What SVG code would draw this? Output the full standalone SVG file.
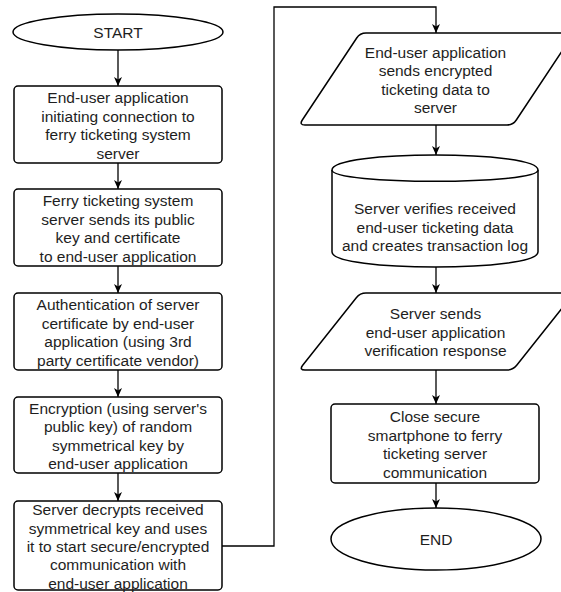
<svg xmlns="http://www.w3.org/2000/svg" width="561" height="592" viewBox="0 0 561 592">
  <style>
    .shape { fill: #ffffff; stroke: #000000; stroke-width: 1.5; }
    .conn { fill: none; stroke: #000000; stroke-width: 1.3; }
    text { font-family: "Liberation Sans", Arial, Helvetica, sans-serif; font-size: 15.5px; fill: #1e1e1e; text-anchor: middle; }
  </style>
  <defs>
    <marker id="arrow" markerUnits="userSpaceOnUse" markerWidth="10" markerHeight="10" refX="9" refY="4.5" orient="auto">
      <path d="M0,0.5 L9,4.5 L0,8.5 L2.5,4.5 Z" fill="#000000"/>
    </marker>
  </defs>
  <rect width="561" height="592" fill="#ffffff"/>

  <g id="connectors">
    <line class="conn" x1="118" y1="50" x2="118" y2="86" marker-end="url(#arrow)"/>
    <line class="conn" x1="118" y1="163" x2="118" y2="189" marker-end="url(#arrow)"/>
    <line class="conn" x1="118" y1="266" x2="118" y2="293" marker-end="url(#arrow)"/>
    <line class="conn" x1="118" y1="370" x2="118" y2="397" marker-end="url(#arrow)"/>
    <line class="conn" x1="118" y1="473" x2="118" y2="501" marker-end="url(#arrow)"/>
    <path class="conn" d="M222,546 L274,546 L274,7 L436,7 L436,33" marker-end="url(#arrow)"/>
    <line class="conn" x1="436" y1="125" x2="436" y2="155" marker-end="url(#arrow)"/>
    <line class="conn" x1="436" y1="267" x2="436" y2="293" marker-end="url(#arrow)"/>
    <line class="conn" x1="436" y1="370" x2="436" y2="404" marker-end="url(#arrow)"/>
    <line class="conn" x1="436" y1="483" x2="436" y2="508" marker-end="url(#arrow)"/>
  </g>

  <g id="start">
    <ellipse class="shape" cx="118" cy="32" rx="105" ry="18"/>
    <text x="118" y="38">START</text>
  </g>

  <g id="step1">
    <rect class="shape" x="14" y="86" width="208" height="77" rx="4"/>
    <text x="118" y="103.4">End-user application</text>
    <text x="118" y="121.8">initiating connection to</text>
    <text x="118" y="140.2">ferry ticketing system</text>
    <text x="118" y="158.6">server</text>
  </g>

  <g id="step2">
    <rect class="shape" x="14" y="189" width="208" height="77" rx="4"/>
    <text x="118" y="206.4">Ferry ticketing system</text>
    <text x="118" y="224.8">server sends its public</text>
    <text x="118" y="243.2">key and certificate</text>
    <text x="118" y="261.6">to end-user application</text>
  </g>

  <g id="step3">
    <rect class="shape" x="14" y="293" width="208" height="77" rx="4"/>
    <text x="118" y="310.4">Authentication of server</text>
    <text x="118" y="328.8">certificate by end-user</text>
    <text x="118" y="347.2">application (using 3rd</text>
    <text x="118" y="365.6">party certificate vendor)</text>
  </g>

  <g id="step4">
    <rect class="shape" x="14" y="397" width="208" height="76" rx="4"/>
    <text x="118" y="413.9">Encryption (using server's</text>
    <text x="118" y="432.3">public key) of random</text>
    <text x="118" y="450.7">symmetrical key by</text>
    <text x="118" y="469.1">end-user application</text>
  </g>

  <g id="step5">
    <rect class="shape" x="14" y="501" width="208" height="89" rx="4"/>
    <text x="118" y="515.2">Server decrypts received</text>
    <text x="118" y="533.6">symmetrical key and uses</text>
    <text x="118" y="552">it to start secure/encrypted</text>
    <text x="118" y="570.4">communication with</text>
    <text x="118" y="588.8">end-user application</text>
  </g>

  <g id="step6">
    <path class="shape" d="M356.7,38 Q360,33 366,33 L568,33 Q574,33 570.7,38 L516.3,120 Q513,125 507,125 L305,125 Q299,125 302.3,120 Z"/>
    <text x="435.5" y="57.9">End-user application</text>
    <text x="435.5" y="76.3">sends encrypted</text>
    <text x="435.5" y="94.7">ticketing data to</text>
    <text x="435.5" y="113.1">server</text>
  </g>

  <g id="step7">
    <path class="shape" d="M332,170 C332,150 538,150 538,170 L538,252 C538,272 332,272 332,252 Z"/>
    <path class="shape" fill="none" d="M332,170 C332,185 538,185 538,170"/>
    <text x="435" y="214.3">Server verifies received</text>
    <text x="435" y="232.5">end-user ticketing data</text>
    <text x="435" y="250.7">and creates transaction log</text>
  </g>

  <g id="step8">
    <path class="shape" d="M356.3,297.7 Q360,293 366,293 L568,293 Q574,293 570.3,297.7 L516.7,365.3 Q513,370 507,370 L305,370 Q299,370 302.7,365.3 Z"/>
    <text x="435.5" y="319.4">Server sends</text>
    <text x="435.5" y="337.8">end-user application</text>
    <text x="435.5" y="356.2">verification response</text>
  </g>

  <g id="step9">
    <rect class="shape" x="331" y="404" width="208" height="79" rx="4"/>
    <text x="435" y="422.4">Close secure</text>
    <text x="435" y="440.8">smartphone to ferry</text>
    <text x="435" y="459.2">ticketing server</text>
    <text x="435" y="477.6">communication</text>
  </g>

  <g id="end">
    <ellipse class="shape" cx="436" cy="539" rx="105" ry="31"/>
    <text x="436" y="545">END</text>
  </g>
</svg>
